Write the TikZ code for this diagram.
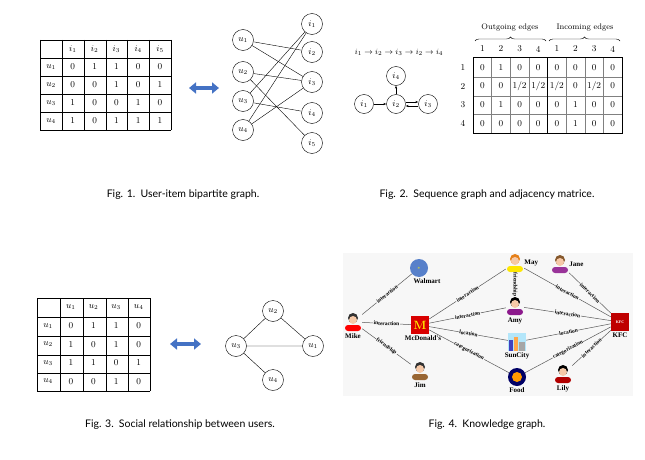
\documentclass[tikz,border=0pt]{standalone}
\usepackage{fontspec}
\newfontfamily\capfont{Lato}
\newfontfamily\kgfont{Liberation Serif}
\usetikzlibrary{arrows.meta,positioning,decorations.pathreplacing,calc}
\definecolor{arrowblue}{HTML}{4472C4}
\definecolor{kgbg}{HTML}{F7F7F7}
\definecolor{skin}{HTML}{F6C9A8}
\newcommand{\person}[4]{% name, position, shirt, hair
  \node[icon] (#1) at (#2) {};
  \fill[#3, rounded corners=3pt] ($(#1)+(-8,9)$) -- ($(#1)+(-8,3)$) -- ($(#1)+(8,3)$) -- ($(#1)+(8,9)$) -- cycle;
  \fill[#4] ($(#1)+(0,-4)$) circle (5);
  \fill[skin] ($(#1)+(0,-2)$) circle (4);
}
\begin{document}
\begin{tikzpicture}[x=1pt, y=-1pt,
    vtx/.style={circle, draw, inner sep=0pt, minimum size=21pt, font=\small},
    cell/.style={font=\small, inner sep=0pt},
    dbl/.style={{Triangle[width=11pt,length=7pt]}-{Triangle[width=11pt,length=7pt]}, line width=4.5pt, color=arrowblue},
    figcap/.style={font=\capfont\fontsize{10.5}{12}\selectfont},
    kg/.style={draw=gray!70!black, line width=0.5pt},
    rel/.style={font=\kgfont\bfseries\fontsize{5.5}{6}\selectfont, fill=kgbg, inner sep=0.6pt, sloped},
    kgname/.style={font=\kgfont\bfseries\fontsize{7}{8}\selectfont, inner sep=0pt},
    icon/.style={minimum size=18pt, inner sep=0pt}]
\useasboundingbox (0,0) rectangle (645,460);

% Fig. 1
\foreach \x in {40,62,84,106,127,149,171} \draw (\x,40) -- (\x,130);
\foreach \y in {40,58,76,94,112,130} \draw (40,\y) -- (171,\y);
\foreach \k in {1,...,5} \node[cell] (ah\k) at ({40+21.8*\k+11},49) {$i_\k$};
\foreach \row [count=\j] in {{0,1,1,0,0},{0,0,1,0,1},{1,0,0,1,0},{1,0,1,1,1}} {
  \node[cell] (ar\j) at (51,{49+18*\j}) {$u_\j$};
  \foreach \v [count=\k] in \row \node[cell] (a\j\k) at ({40+21.8*\k+11},{49+18*\j}) {\v};
}
\coordinate (aL) at (189,88);
\coordinate (aR) at (219,88);
\draw[dbl] (aL) -- (aR);
\foreach \y [count=\j] in {40,72,101,130} \node[vtx] (u\j) at (243,\y) {$u_\j$};
\foreach \y [count=\j] in {24,52,82,113,143} \node[vtx] (i\j) at (312,\y) {$i_\j$};
\foreach \a/\b in {1/2,1/3,2/3,2/5,3/1,3/4,4/1,4/3} \draw (u\a) -- (i\b);
\node[figcap] (cap1) at (183,195) {Fig. 1.\enspace User-item bipartite graph.};

% Fig. 2
\node[font=\footnotesize] (seq) at (399,52) {$i_1\to i_2\to i_3\to i_2\to i_4$};
\node[vtx, minimum size=19pt] (q4) at (396,76) {$i_4$};
\node[vtx, minimum size=19pt] (q1) at (364,104) {$i_1$};
\node[vtx, minimum size=19pt] (q2) at (396,104) {$i_2$};
\node[vtx, minimum size=19pt] (q3) at (428,104) {$i_3$};
\draw[-{Stealth[length=3pt]}] (q1) -- (q2);
\draw[-{Stealth[length=3pt]}] (q2) -- (q4);
\draw[-{Stealth[length=3pt]}] ([yshift=2pt]q2.east) -- ([yshift=2pt]q3.west);
\draw[-{Stealth[length=3pt]}] ([yshift=-2pt]q3.west) -- ([yshift=-2pt]q2.east);
\foreach \k in {1,...,7} \draw[gray] ({473+18.625*\k},58) -- ({473+18.625*\k},133);
\foreach \y in {77,96,114} \draw[gray] (473,\y) -- (622,\y);
\draw[line width=1pt] (473,58) rectangle (622,133);
\draw[line width=1pt] (547.5,58) -- (547.5,133);
\foreach \h [count=\k] in {1,2,3,4,1,2,3,4} \node[cell] (bh\k) at ({473+18.625*\k-9.3},49) {\h};
\foreach \row [count=\j] in {{0,1,0,0,0,0,0,0},{0,0,1/2,1/2,1/2,0,1/2,0},{0,1,0,0,0,1,0,0},{0,0,0,0,0,1,0,0}} {
  \node[cell] (br\j) at (463,{48.6+18.75*\j}) {\j};
  \foreach \v [count=\k] in \row \node[cell] (b\j\k) at ({473+18.625*\k-9.3},{48.6+18.75*\j}) {\v};
}
\draw[decorate, decoration={brace, amplitude=4pt}] (475,41) -- (546,41);
\draw[decorate, decoration={brace, amplitude=4pt}] (549,41) -- (620,41);
\node[font=\footnotesize] (out) at (510,28) {Outgoing edges};
\node[font=\footnotesize] (inc) at (585,28) {Incoming edges};
\node[figcap] (cap2) at (487,195) {Fig. 2.\enspace Sequence graph and adjacency matrice.};

% Fig. 3
\foreach \x in {37,60,83,106,128,150} \draw (\x,298) -- (\x,391);
\foreach \y in {298,317,336,355,373,391} \draw (37,\y) -- (150,\y);
\foreach \k in {1,...,4} \node[cell] (ch\k) at ({37+22.6*\k+11.3},307) {$u_\k$};
\foreach \row [count=\j] in {{0,1,1,0},{1,0,1,0},{1,1,0,1},{0,0,1,0}} {
  \node[cell] (cr\j) at (48,{307+18.6*\j}) {$u_\j$};
  \foreach \v [count=\k] in \row \node[cell] (c\j\k) at ({37+22.6*\k+11.3},{307+18.6*\j}) {\v};
}
\coordinate (cL) at (170,344);
\coordinate (cR) at (201,344);
\draw[dbl] (cL) -- (cR);
\node[vtx] (s2) at (273,311) {$u_2$};
\node[vtx] (s3) at (236,346) {$u_3$};
\node[vtx] (s1) at (313,346) {$u_1$};
\node[vtx] (s4) at (273,380) {$u_4$};
\draw (s3) -- (s2) -- (s1) -- (s3) -- (s4);
\node[figcap] (cap3) at (180,425) {Fig. 3.\enspace Social relationship between users.};

% Fig. 4
\fill[kgbg] (343,253) rectangle (633,396);
\person{mike}{353,322}{red}{black!80}
\person{jim}{420,371}{brown!80!black}{black!80}
\person{may}{515,263}{yellow!90!orange}{orange!60!brown}
\person{jane}{560,264}{violet!80}{brown!70!black}
\person{amy}{515,306}{violet!90}{black}
\person{lily}{563,374}{red!70!black}{black}
\node[icon, circle, fill=arrowblue!90] (walmart) at (419,268) {\color{yellow}\tiny$\ast$};
\node[icon, fill=red!85!black] (mcd) at (420,325) {\color{yellow}\bfseries\large M};
\node[icon, fill=cyan!30] (suncity) at (517,342) {};
\fill[blue!50!gray] ($(suncity)+(-8,9)$) rectangle ($(suncity)+(-4,-2)$);
\fill[orange!70] ($(suncity)+(-3,9)$) rectangle ($(suncity)+(1,-5)$);
\fill[gray!70] ($(suncity)+(2,9)$) rectangle ($(suncity)+(8,0)$);
\node[icon, circle, fill=blue!40!black] (food) at (517,377) {};
\fill[orange!80!yellow] (food) circle (5);
\node[icon, fill=red!75!black, font=\kgfont\bfseries\fontsize{4}{4}\selectfont, text=white] (kfc) at (620,322) {KFC};
\node[kgname, below=2pt of mike] (mikeL) {Mike};
\node[kgname, below=1pt of walmart, xshift=8pt] (walmartL) {Walmart};
\node[kgname, below=1pt of mcd, xshift=3pt] (mcdL) {McDonald's};
\node[kgname, below=2pt of jim] (jimL) {Jim};
\node[kgname, right=0pt of may] (mayL) {May};
\node[kgname, right=0pt of jane] (janeL) {Jane};
\node[kgname, below=2pt of amy] (amyL) {Amy};
\node[kgname, below=1pt of suncity] (suncityL) {SunCity};
\node[kgname, below=1pt of food] (foodL) {Food};
\node[kgname, below=2pt of lily] (lilyL) {Lily};
\node[kgname, below=1pt of kfc] (kfcL) {KFC};
\path[kg]
  (mike) edge node[rel] {interaction} (walmart)
         edge node[rel] {interaction} (mcd)
         edge node[rel] {friendship} (jim)
  (mcd)  edge node[rel] {interaction} (may)
         edge node[rel] {interaction} (amy)
         edge node[rel] {location} (suncity)
         edge node[rel] {categorization} (food)
  (may)  edge node[rel] {friendship} (amy)
         edge node[rel] {interaction} (kfc)
  (jane) edge node[rel] {interaction} (kfc)
  (amy)  edge node[rel] {interaction} (kfc)
  (suncity) edge node[rel] {location} (kfc)
  (food) edge node[rel] {categorization} (kfc)
  (lily) edge node[rel] {interaction} (kfc);
\node[figcap] (cap4) at (487,425) {Fig. 4.\enspace Knowledge graph.};
\end{tikzpicture}
\end{document}
